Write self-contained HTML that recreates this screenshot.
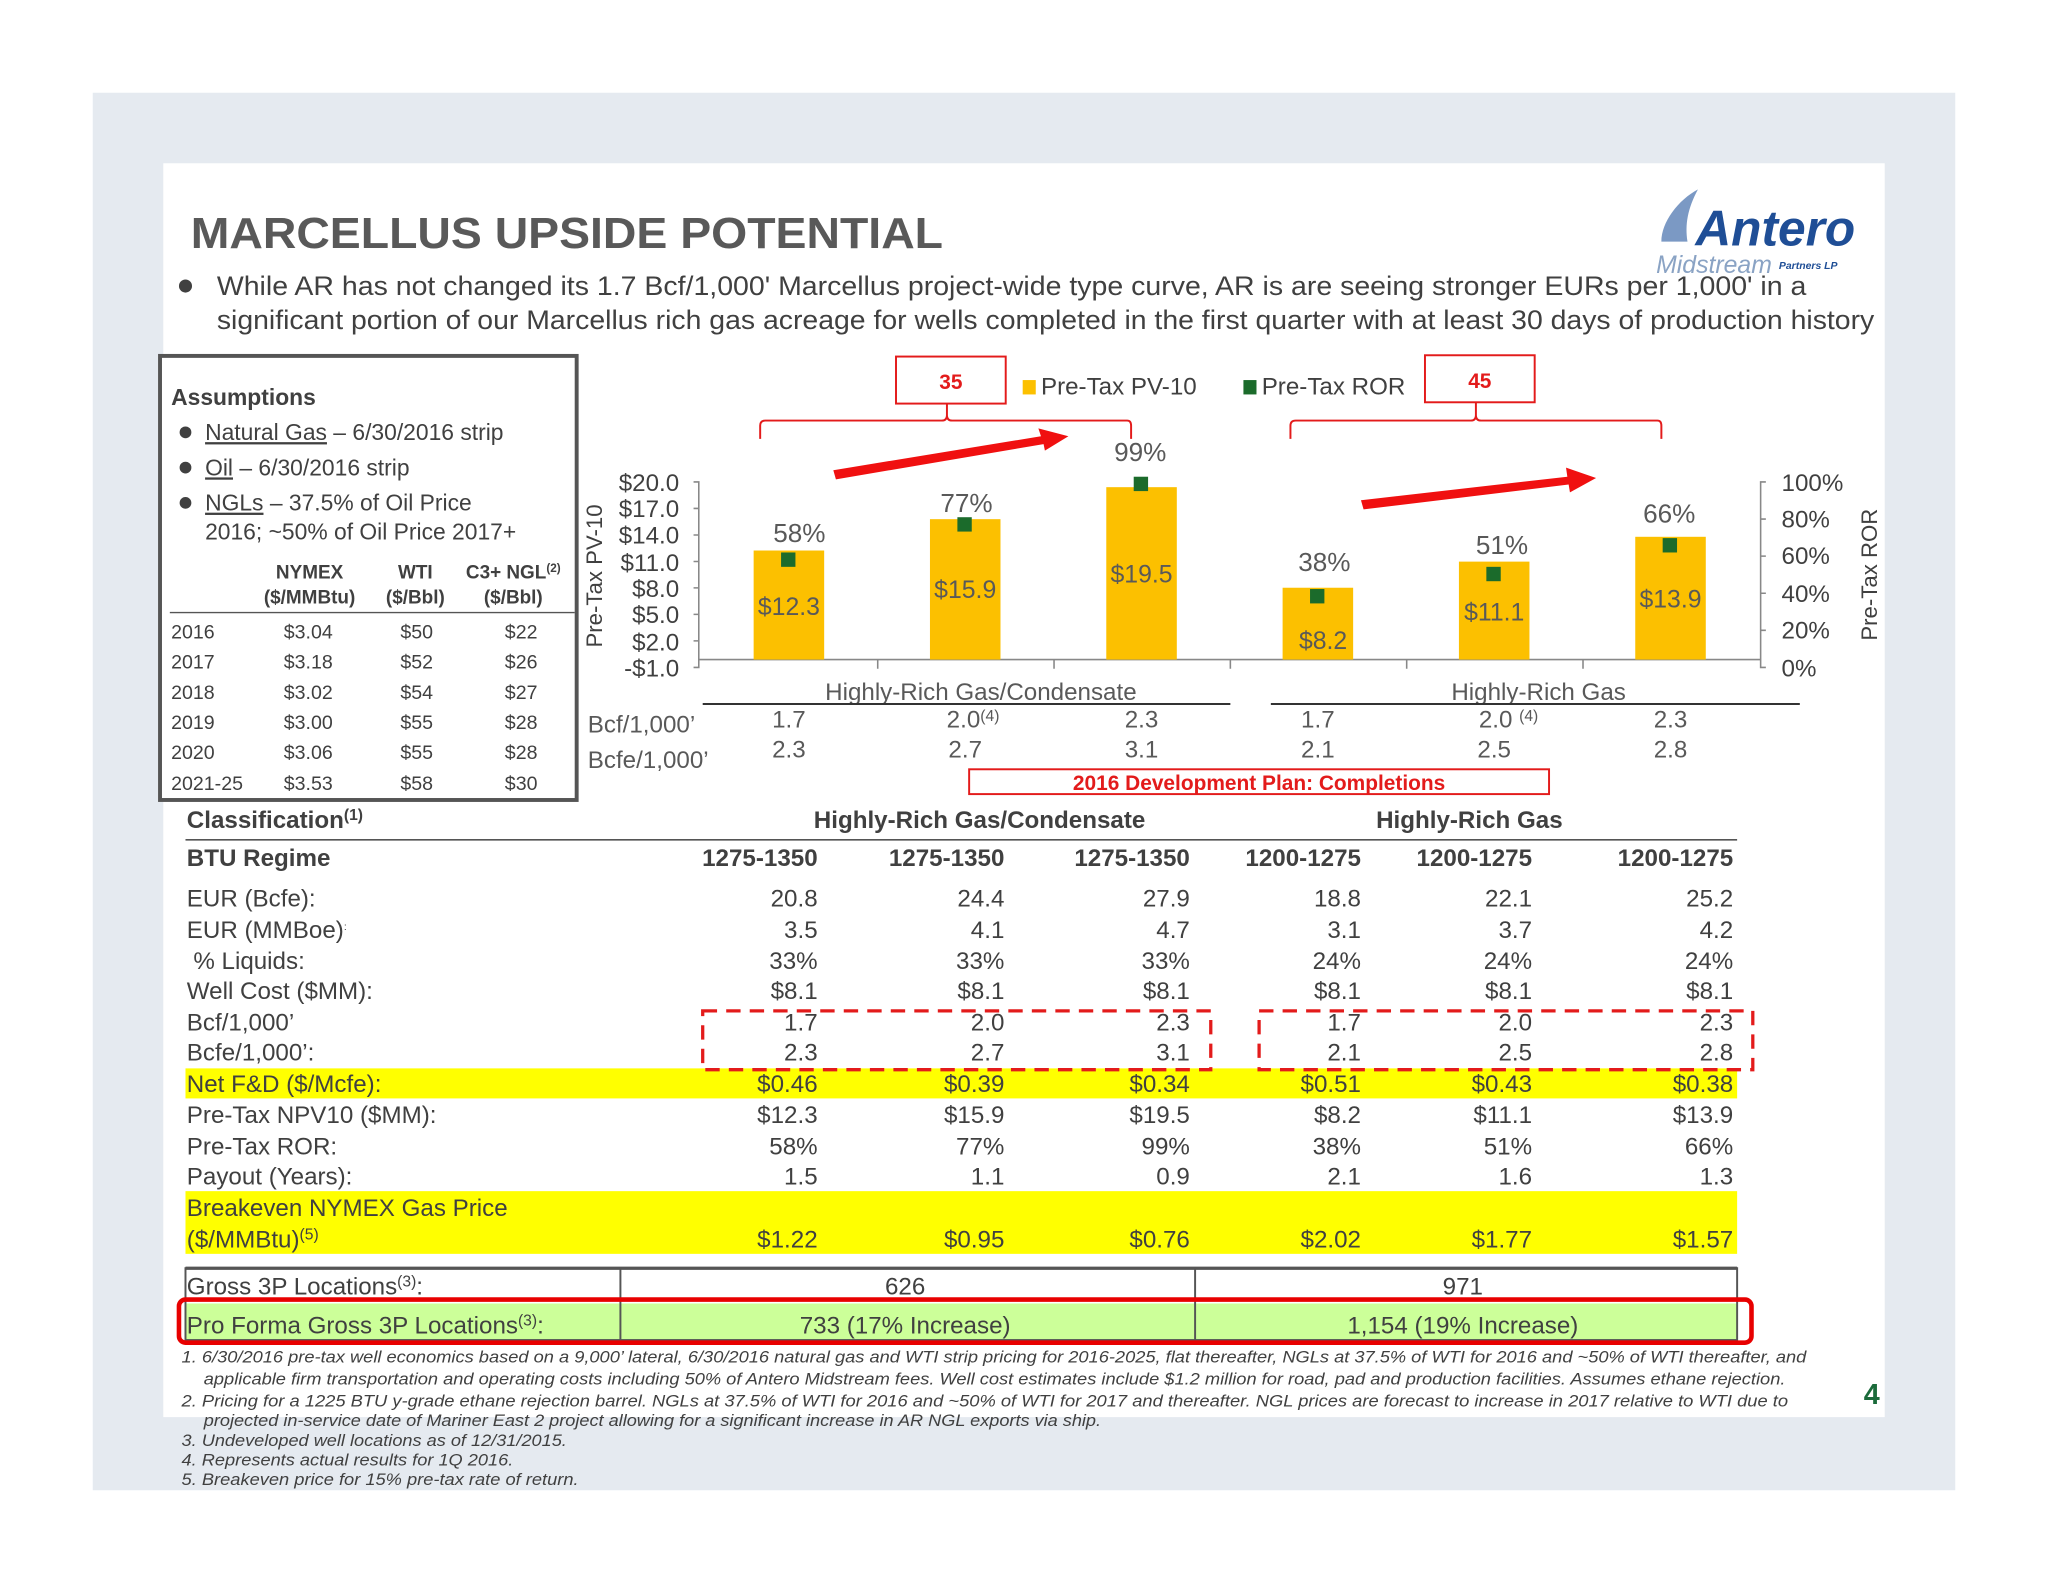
<!DOCTYPE html>
<html><head><meta charset="utf-8"><style>
html,body{margin:0;padding:0;background:#fff;}
svg{display:block;}
text{font-family:"Liberation Sans",Arial,sans-serif;}
</style></head><body>
<svg width="2048" height="1582" viewBox="0 0 1568 1211.25" xmlns="http://www.w3.org/2000/svg">
<rect x="0" y="0" width="1568" height="1212" fill="#fff"/>
<rect x="71" y="71" width="1426" height="1070" fill="#e5eaf0"/>
<rect x="125" y="125" width="1318" height="960" fill="#fff"/>

<!-- Title -->
<text x="146" y="190" font-size="33" font-weight="bold" fill="#595959" textLength="576" lengthAdjust="spacingAndGlyphs">MARCELLUS UPSIDE POTENTIAL</text>
<!-- Logo -->
<text x="1298" y="188" font-size="38" font-weight="bold" font-style="italic" fill="#1f4e96">Antero</text>
<path d="M1272,185 C1272,170 1285,153 1300,145 C1292,160 1290,172 1292,185 Z" fill="#5a7fb5" opacity="0.8"/>
<text x="1268" y="209" font-size="19" font-style="italic" fill="#8aa3c4">Midstream</text>
<text x="1362" y="206" font-size="8" font-weight="bold" font-style="italic" fill="#1f4e96">Partners LP</text>

<!-- Bullet -->
<circle cx="142" cy="219" r="5" fill="#404040"/>
<text x="166" y="226" font-size="20.5" fill="#404040" textLength="1217" lengthAdjust="spacingAndGlyphs">While AR has not changed its 1.7 Bcf/1,000' Marcellus project-wide type curve, AR is are seeing stronger EURs per 1,000' in a</text>
<text x="166" y="252" font-size="20.5" fill="#404040" textLength="1269" lengthAdjust="spacingAndGlyphs">significant portion of our Marcellus rich gas acreage for wells completed in the first quarter with at least 30 days of production history</text>

<!-- Assumptions box -->
<rect x="122.5" y="272.5" width="319" height="340" fill="#fff" stroke="#555" stroke-width="3"/>
<g fill="#404040">
<text x="131" y="310" font-size="17.5" font-weight="bold">Assumptions</text>
<circle cx="142" cy="331" r="4.5"/><text x="157" y="337" font-size="17.5"><tspan text-decoration="underline">Natural Gas</tspan> – 6/30/2016 strip</text>
<circle cx="142" cy="358" r="4.5"/><text x="157" y="364" font-size="17.5"><tspan text-decoration="underline">Oil</tspan> – 6/30/2016 strip</text>
<circle cx="142" cy="385" r="4.5"/><text x="157" y="391" font-size="17.5"><tspan text-decoration="underline">NGLs</tspan> – 37.5% of Oil Price</text>
<text x="157" y="413" font-size="17.5">2016; ~50% of Oil Price 2017+</text>
<g font-size="14.5" font-weight="bold" text-anchor="middle">
<text x="237" y="443">NYMEX</text><text x="237" y="462">($/MMBtu)</text>
<text x="318" y="443">WTI</text><text x="318" y="462">($/Bbl)</text>
<text x="393" y="443">C3+ NGL<tspan font-size="9" dy="-5">(2)</tspan></text><text x="393" y="462">($/Bbl)</text>
</g>
<line x1="130" y1="469" x2="440" y2="469" stroke="#555" stroke-width="1"/>
<g font-size="15">
<text x="131" y="489">2016</text><text x="131" y="512">2017</text><text x="131" y="535">2018</text><text x="131" y="558">2019</text><text x="131" y="581">2020</text><text x="131" y="605">2021-25</text>
<g text-anchor="middle">
<text x="236" y="489">$3.04</text><text x="236" y="512">$3.18</text><text x="236" y="535">$3.02</text><text x="236" y="558">$3.00</text><text x="236" y="581">$3.06</text><text x="236" y="605">$3.53</text>
<text x="319" y="489">$50</text><text x="319" y="512">$52</text><text x="319" y="535">$54</text><text x="319" y="558">$55</text><text x="319" y="581">$55</text><text x="319" y="605">$58</text>
<text x="399" y="489">$22</text><text x="399" y="512">$26</text><text x="399" y="535">$27</text><text x="399" y="558">$28</text><text x="399" y="581">$28</text><text x="399" y="605">$30</text>
</g></g>
</g>

<!-- Chart axes -->
<g stroke="#888" stroke-width="1.2" fill="none">
<path d="M531,369 H535 V511 H531 M531,389.3 H535 M531,409.6 H535 M531,429.9 H535 M531,450.1 H535 M531,470.4 H535 M531,490.7 H535"/>
<path d="M535,505 H1348"/>
<path d="M1352,369 H1348 V511 H1352 M1348,397.4 H1352 M1348,425.8 H1352 M1348,454.2 H1352 M1348,482.6 H1352"/>
<path d="M672,505 V512 M807,505 V512 M942,505 V512 M1077,505 V512 M1212,505 V512"/>
</g>
<g fill="#404040" font-size="18.5" text-anchor="end">
<text x="520" y="376">$20.0</text><text x="520" y="396">$17.0</text><text x="520" y="416">$14.0</text><text x="520" y="437">$11.0</text><text x="520" y="457">$8.0</text><text x="520" y="477">$5.0</text><text x="520" y="498">$2.0</text><text x="520" y="518">-$1.0</text>
</g>
<text transform="translate(461,441) rotate(-90)" font-size="17" fill="#404040" text-anchor="middle">Pre-Tax PV-10</text>
<g fill="#404040" font-size="18.5">
<text x="1364" y="376">100%</text><text x="1364" y="404">80%</text><text x="1364" y="432">60%</text><text x="1364" y="461">40%</text><text x="1364" y="489">20%</text><text x="1364" y="518">0%</text>
</g>
<text transform="translate(1437,440) rotate(-90)" font-size="17" fill="#404040" text-anchor="middle">Pre-Tax ROR</text>

<!-- Bars -->
<g fill="#fcc000">
<rect x="577" y="421.5" width="54" height="83.5"/>
<rect x="712" y="397.5" width="54" height="107.5"/>
<rect x="847" y="373" width="54" height="132"/>
<rect x="982" y="450" width="54" height="55"/>
<rect x="1117" y="430" width="54" height="75"/>
<rect x="1252" y="411" width="54" height="94"/>
</g>
<g fill="#1b6b2b">
<rect x="598" y="423" width="11" height="11"/>
<rect x="733" y="396" width="11" height="11"/>
<rect x="868" y="365" width="11" height="11"/>
<rect x="1003" y="451" width="11" height="11"/>
<rect x="1138" y="434" width="11" height="11"/>
<rect x="1273" y="412" width="11" height="11"/>
</g>
<g fill="#595959" font-size="20" text-anchor="middle">
<text x="612" y="415">58%</text><text x="740" y="392">77%</text><text x="873" y="353">99%</text>
<text x="1014" y="437">38%</text><text x="1150" y="424">51%</text><text x="1278" y="400">66%</text>
</g>
<g fill="#595959" font-size="19" text-anchor="middle">
<text x="604" y="471">$12.3</text><text x="739" y="458">$15.9</text><text x="874" y="446">$19.5</text>
<text x="1013" y="497">$8.2</text><text x="1144" y="475">$11.1</text><text x="1279" y="465">$13.9</text>
</g>

<!-- category labels -->
<g fill="#595959" font-size="18.5" text-anchor="middle">
<text x="751" y="536">Highly-Rich Gas/Condensate</text>
<text x="1178" y="536">Highly-Rich Gas</text>
</g>
<line x1="538" y1="539" x2="942" y2="539" stroke="#333" stroke-width="1.5"/>
<line x1="973" y1="539" x2="1378" y2="539" stroke="#333" stroke-width="1.5"/>
<g fill="#595959" font-size="18.5">
<text x="450" y="561">Bcf/1,000’</text><text x="450" y="588">Bcfe/1,000’</text>
<g text-anchor="middle">
<text x="604" y="557">1.7</text><text x="745" y="557">2.0<tspan font-size="12" dy="-5">(4)</tspan></text><text x="874" y="557">2.3</text>
<text x="1009" y="557">1.7</text><text x="1155" y="557">2.0 <tspan font-size="12" dy="-5">(4)</tspan></text><text x="1279" y="557">2.3</text>
<text x="604" y="580">2.3</text><text x="739" y="580">2.7</text><text x="874" y="580">3.1</text>
<text x="1009" y="580">2.1</text><text x="1144" y="580">2.5</text><text x="1279" y="580">2.8</text>
</g></g>
<rect x="742" y="589" width="444" height="19" fill="#fff" stroke="#e31b1b" stroke-width="1.5"/>
<text x="964" y="605" font-size="16" font-weight="bold" fill="#e31b1b" text-anchor="middle">2016 Development Plan: Completions</text>

<!-- legend / callouts -->
<rect x="686" y="273" width="84" height="36" fill="#fff" stroke="#e31b1b" stroke-width="1.5"/>
<text x="728" y="298" font-size="16" font-weight="bold" fill="#e31b1b" text-anchor="middle">35</text>
<rect x="1091" y="272" width="84" height="36" fill="#fff" stroke="#e31b1b" stroke-width="1.5"/>
<text x="1133" y="297" font-size="16" font-weight="bold" fill="#e31b1b" text-anchor="middle">45</text>
<rect x="783" y="291" width="10" height="11" fill="#fcc000"/>
<text x="797" y="302" font-size="18.5" fill="#404040">Pre-Tax PV-10</text>
<rect x="952" y="291" width="10" height="11" fill="#1b6b2b"/>
<text x="966" y="302" font-size="18.5" fill="#404040">Pre-Tax ROR</text>
<g stroke="#e31b1b" stroke-width="1.5" fill="none">
<path d="M582,336 V326 Q582,322 586,322 H721 Q725,322 725,318 V309 M725,318 Q725,322 729,322 H863 Q866,322 866,326 V336"/>
<path d="M988,336 V326 Q988,322 992,322 H1126 Q1130,322 1130,318 V308 M1130,318 Q1130,322 1134,322 H1269 Q1272,322 1272,326 V336"/>
</g>
<g fill="#f01010">
<polygon points="638,360 797,334 795,328 818,334 800,345 799,340 640,367"/>
<polygon points="1042,383 1200,365 1199,358 1222,366 1202,377 1201,371 1044,390"/>
</g>

<!-- Classification table -->
<g fill="#404040">
<text x="143" y="634" font-size="18.5" font-weight="bold">Classification<tspan font-size="12" dy="-6">(1)</tspan></text>
<text x="750" y="634" font-size="18.5" font-weight="bold" text-anchor="middle">Highly-Rich Gas/Condensate</text>
<text x="1125" y="634" font-size="18.5" font-weight="bold" text-anchor="middle">Highly-Rich Gas</text>
</g>
<line x1="142" y1="643" x2="1330" y2="643" stroke="#555" stroke-width="1.2"/>
<rect x="142" y="818" width="1188" height="23" fill="#ffff00"/>
<rect x="142" y="912" width="1188" height="48" fill="#ffff00"/>
<g fill="#404040" font-size="18.5">
<text x="143" y="663" font-weight="bold">BTU Regime</text>
<text x="143" y="694">EUR (Bcfe):</text>
<text x="143" y="718">EUR (MMBoe)<tspan font-size="8" dy="-6">:</tspan></text>
<text x="148" y="742">% Liquids:</text>
<text x="143" y="765">Well Cost ($MM):</text>
<text x="143" y="789">Bcf/1,000’</text>
<text x="143" y="812">Bcfe/1,000’:</text>
<text x="143" y="836">Net F&amp;D ($/Mcfe):</text>
<text x="143" y="860">Pre-Tax NPV10 ($MM):</text>
<text x="143" y="884">Pre-Tax ROR:</text>
<text x="143" y="907">Payout (Years):</text>
<text x="143" y="931">Breakeven NYMEX Gas Price</text>
<text x="143" y="955">($/MMBtu)<tspan font-size="12" dy="-6">(5)</tspan></text>
</g>
<g fill="#404040" font-size="18.5" text-anchor="end">
<g font-weight="bold"><text x="626" y="663">1275-1350</text><text x="769" y="663">1275-1350</text><text x="911" y="663">1275-1350</text><text x="1042" y="663">1200-1275</text><text x="1173" y="663">1200-1275</text><text x="1327" y="663">1200-1275</text></g>
<text x="626" y="694">20.8</text><text x="769" y="694">24.4</text><text x="911" y="694">27.9</text><text x="1042" y="694">18.8</text><text x="1173" y="694">22.1</text><text x="1327" y="694">25.2</text>
<text x="626" y="718">3.5</text><text x="769" y="718">4.1</text><text x="911" y="718">4.7</text><text x="1042" y="718">3.1</text><text x="1173" y="718">3.7</text><text x="1327" y="718">4.2</text>
<text x="626" y="742">33%</text><text x="769" y="742">33%</text><text x="911" y="742">33%</text><text x="1042" y="742">24%</text><text x="1173" y="742">24%</text><text x="1327" y="742">24%</text>
<text x="626" y="765">$8.1</text><text x="769" y="765">$8.1</text><text x="911" y="765">$8.1</text><text x="1042" y="765">$8.1</text><text x="1173" y="765">$8.1</text><text x="1327" y="765">$8.1</text>
<text x="626" y="789">1.7</text><text x="769" y="789">2.0</text><text x="911" y="789">2.3</text><text x="1042" y="789">1.7</text><text x="1173" y="789">2.0</text><text x="1327" y="789">2.3</text>
<text x="626" y="812">2.3</text><text x="769" y="812">2.7</text><text x="911" y="812">3.1</text><text x="1042" y="812">2.1</text><text x="1173" y="812">2.5</text><text x="1327" y="812">2.8</text>
<text x="626" y="836">$0.46</text><text x="769" y="836">$0.39</text><text x="911" y="836">$0.34</text><text x="1042" y="836">$0.51</text><text x="1173" y="836">$0.43</text><text x="1327" y="836">$0.38</text>
<text x="626" y="860">$12.3</text><text x="769" y="860">$15.9</text><text x="911" y="860">$19.5</text><text x="1042" y="860">$8.2</text><text x="1173" y="860">$11.1</text><text x="1327" y="860">$13.9</text>
<text x="626" y="884">58%</text><text x="769" y="884">77%</text><text x="911" y="884">99%</text><text x="1042" y="884">38%</text><text x="1173" y="884">51%</text><text x="1327" y="884">66%</text>
<text x="626" y="907">1.5</text><text x="769" y="907">1.1</text><text x="911" y="907">0.9</text><text x="1042" y="907">2.1</text><text x="1173" y="907">1.6</text><text x="1327" y="907">1.3</text>
<text x="626" y="955">$1.22</text><text x="769" y="955">$0.95</text><text x="911" y="955">$0.76</text><text x="1042" y="955">$2.02</text><text x="1173" y="955">$1.77</text><text x="1327" y="955">$1.57</text>
</g>
<g stroke="#e31b1b" stroke-width="2.5" stroke-dasharray="11,7" fill="none">
<rect x="538" y="774" width="389" height="45"/>
<rect x="964" y="774" width="378" height="45"/>
</g>

<!-- Gross 3P table -->
<rect x="142" y="998" width="1188" height="28" fill="#ccff99"/>
<g stroke="#555" stroke-width="1.5" fill="none">
<rect x="142" y="971" width="1188" height="55"/>
<line x1="475" y1="971" x2="475" y2="1026"/><line x1="915" y1="971" x2="915" y2="1026"/>
</g>
<line x1="142" y1="971" x2="1330" y2="971" stroke="#555" stroke-width="2.5"/>
<g fill="#404040" font-size="18.5">
<text x="143" y="991">Gross 3P Locations<tspan font-size="12" dy="-6">(3)</tspan><tspan dy="6">:</tspan></text>
<text x="693" y="991" text-anchor="middle">626</text><text x="1120" y="991" text-anchor="middle">971</text>
<text x="143" y="1021">Pro Forma Gross 3P Locations<tspan font-size="12" dy="-6">(3)</tspan><tspan dy="6">:</tspan></text>
<text x="693" y="1021" text-anchor="middle">733 (17% Increase)</text><text x="1120" y="1021" text-anchor="middle">1,154 (19% Increase)</text>
</g>
<rect x="137" y="995" width="1204" height="33" rx="5" fill="none" stroke="#e80000" stroke-width="3.5"/>

<!-- footnotes -->
<g fill="#404040" font-size="12.6" font-style="italic">
<text x="139" y="1043" textLength="1244" lengthAdjust="spacingAndGlyphs">1.  6/30/2016 pre-tax well economics based on a 9,000’ lateral, 6/30/2016 natural gas and WTI strip pricing for 2016-2025, flat thereafter, NGLs at 37.5% of WTI for 2016 and ~50% of WTI thereafter, and</text>
<text x="156" y="1060" textLength="1211" lengthAdjust="spacingAndGlyphs">applicable firm transportation and operating costs including 50% of Antero Midstream fees.  Well cost estimates include $1.2 million for road, pad and production facilities.  Assumes ethane rejection.</text>
<text x="139" y="1077" textLength="1230" lengthAdjust="spacingAndGlyphs">2.  Pricing for a 1225 BTU y-grade ethane rejection barrel.  NGLs at 37.5% of WTI for 2016 and ~50% of WTI for 2017 and thereafter.  NGL prices are forecast to increase in 2017 relative to WTI due to</text>
<text x="156" y="1092" textLength="687" lengthAdjust="spacingAndGlyphs">projected in-service date of Mariner East 2 project allowing for a significant increase in AR NGL exports via ship.</text>
<text x="139" y="1107" textLength="295" lengthAdjust="spacingAndGlyphs">3.  Undeveloped well locations as of 12/31/2015.</text>
<text x="139" y="1122" textLength="254" lengthAdjust="spacingAndGlyphs">4.  Represents actual results for 1Q 2016.</text>
<text x="139" y="1137" textLength="304" lengthAdjust="spacingAndGlyphs">5.  Breakeven price for 15% pre-tax rate of return.</text>
</g>
<text x="1427" y="1075" font-size="22" font-weight="bold" fill="#1b6b3b">4</text>
</svg>
</body></html>
